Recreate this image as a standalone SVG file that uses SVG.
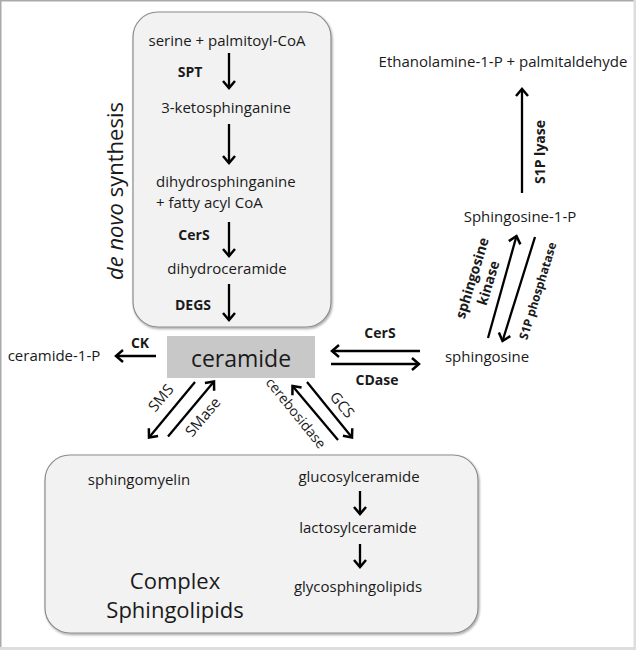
<svg xmlns="http://www.w3.org/2000/svg" width="636" height="650" viewBox="0 0 636 650">
<defs>
<style>
text{font-family:"Open Sans","Liberation Sans",sans-serif;fill:#1a1a1a;}
.t{font-size:15px;}
.b{font-size:14px;font-weight:bold;}
.l{font-size:15px;}
.big{font-size:22px;}
.c{text-anchor:middle;}
.box{fill:#f2f2f2;stroke:#8c8c8c;stroke-width:1.2;filter:url(#sh);}
.ar{stroke:#000;stroke-width:2.3;fill:none;marker-end:url(#ah);}
</style>
<filter id="sh" x="-5%" y="-5%" width="110%" height="110%">
<feDropShadow dx="1" dy="1.5" stdDeviation="1.2" flood-color="#000" flood-opacity="0.35"/>
</filter>
<marker id="ah" markerUnits="userSpaceOnUse" viewBox="-10 -8 12 16" refX="0" refY="0" markerWidth="12" markerHeight="16" orient="auto">
<path d="M-7,-6 L0,0 L-7,6" fill="none" stroke="#000" stroke-width="2.5"/>
</marker>
</defs>
<rect x="0" y="0" width="636" height="650" fill="#fff"/>
<line x1="0" y1="0.75" x2="636" y2="0.75" stroke="#aaa" stroke-width="1.5"/>
<line x1="0.75" y1="0" x2="0.75" y2="650" stroke="#aaa" stroke-width="1.5"/>
<rect x="633.5" y="0" width="2.5" height="650" fill="#ddd"/>
<rect x="0" y="647" width="636" height="3" fill="#ddd"/>

<g id="denovo-box">
<rect class="box" x="133" y="12" width="198" height="315" rx="25"/>
<text class="t c" x="227" y="46">serine + palmitoyl-CoA</text>
<text class="t c" x="226" y="113">3-ketosphinganine</text>
<text class="t" x="156" y="187">dihydrosphinganine</text>
<text class="t" x="156" y="208">+ fatty acyl CoA</text>
<text class="t c" x="227" y="274">dihydroceramide</text>
<text class="b c" x="190" y="77">SPT</text>
<text class="b c" x="194" y="240">CerS</text>
<text class="b c" x="193" y="310">DEGS</text>
<text class="big c" transform="translate(123,191) rotate(-90)"><tspan font-style="italic">de novo</tspan> synthesis</text>
</g>

<g id="ceramide">
<rect x="167" y="336" width="148" height="42" fill="#c8c8c8"/>
<text class="c" x="241" y="367" font-size="23">ceramide</text>
</g>

<g id="ceramide-1-P"><text class="t c" x="54" y="361">ceramide-1-P</text></g>
<g id="sphingosine"><text class="t c" x="487" y="362">sphingosine</text></g>
<g id="S1P"><text class="t c" x="520" y="222">Sphingosine-1-P</text></g>
<g id="ethanolamine"><text class="t c" x="503" y="67">Ethanolamine-1-P + palmitaldehyde</text></g>

<g id="complex-box">
<rect class="box" x="45" y="455" width="433" height="178" rx="25"/>
<text class="t c" x="139" y="485">sphingomyelin</text>
<text class="t c" x="359" y="482">glucosylceramide</text>
<text class="t c" x="358" y="533">lactosylceramide</text>
<text class="t c" x="358" y="592">glycosphingolipids</text>
<text class="big c" x="175" y="589">Complex</text>
<text class="big c" x="175" y="618">Sphingolipids</text>
</g>

<g id="connectors">
<line class="ar" x1="229" y1="53" x2="229" y2="88"/>
<line class="ar" x1="229" y1="124" x2="229" y2="163"/>
<line class="ar" x1="229" y1="222" x2="229" y2="256"/>
<line class="ar" x1="229" y1="284" x2="229" y2="320"/>
<line class="ar" x1="156" y1="356" x2="116" y2="356"/>
<line class="ar" x1="420" y1="351" x2="332" y2="351"/>
<line class="ar" x1="331" y1="364" x2="419" y2="364"/>
<line class="ar" x1="522" y1="193" x2="522" y2="89"/>
<line class="ar" x1="488" y1="338" x2="516.5" y2="236"/>
<line class="ar" x1="535" y1="237" x2="502.5" y2="341"/>
<line class="ar" x1="195" y1="382" x2="149" y2="437.5"/>
<line class="ar" x1="168" y1="436.5" x2="214" y2="381.5"/>
<line class="ar" x1="338" y1="440" x2="292.5" y2="386"/>
<line class="ar" x1="307" y1="382" x2="352" y2="437.5"/>
<line class="ar" x1="360" y1="491" x2="360" y2="514"/>
<line class="ar" x1="360" y1="544" x2="360" y2="567"/>
<text class="b c" x="140" y="348">CK</text>
<text class="b c" x="380" y="338">CerS</text>
<text class="b c" x="377" y="385">CDase</text>
<text class="b c" transform="translate(545,152) rotate(-90)">S1P lyase</text>
<text class="b c" transform="translate(472,278) rotate(-73)"><tspan x="0" y="5">sphingosine</tspan><tspan x="0" y="22">kinase</tspan></text>
<text class="c" font-size="12" font-weight="bold" transform="translate(538,291) rotate(-73)" y="4">S1P phosphatase</text>
<text class="l c" transform="translate(161,398) rotate(-50)" y="5">SMS</text>
<text class="l c" transform="translate(203,417) rotate(-50)" y="5">SMase</text>
<text class="c" font-size="14" transform="translate(296,413) rotate(51)" y="5">cerebosidase</text>
<text class="l c" transform="translate(342,405) rotate(51)" y="5">GCS</text>
</g>
</svg>
